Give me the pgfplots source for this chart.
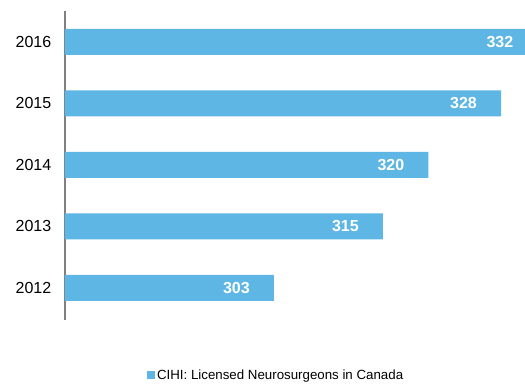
\documentclass[border=0pt]{standalone}
\usepackage{pgfplots}
\pgfplotsset{compat=1.18}
\usepackage{fontspec}
\setmainfont{Liberation Sans}
\definecolor{barblue}{RGB}{94,182,228}
\definecolor{axisgray}{RGB}{128,128,128}

\begin{document}
\begin{tikzpicture}
% page ends at the right edge, so the 2016 bar runs off it as in the reference
\useasboundingbox (-65pt,-64pt) rectangle (460pt,320pt);
\begin{axis}[
    scale only axis,
    width=499.7pt, height=309pt,
    xbar,
    bar width=26pt,
    xmin=280, xmax=335,
    ymin=-0.52, ymax=4.5,
    axis x line=none,
    axis y line*=left,
    y axis line style={-, axisgray, line width=1.2pt},
    ytick={0,1,2,3,4},
    yticklabels={2012,2013,2014,2015,2016},
    ytick style={draw=none},
    yticklabel style={font=\fontsize{16}{18}\selectfont, xshift=-6pt},
    /pgf/number format/assume math mode=true,
    /pgf/number format/1000 sep={},
    nodes near coords,
    every node near coord/.append style={anchor=east, inner sep=0pt,
        xshift=-24pt, text=white, font=\fontsize{16}{18}\selectfont\bfseries},
    legend style={at={(0.4225,-0.178)}, anchor=center, draw=none,
        font=\fontsize{13.3}{15}\selectfont, inner sep=0pt,
        /tikz/every even column/.append style={column sep=0pt}},
    legend image code/.code={\fill[barblue] (0pt,-4pt) rectangle (8pt,4pt);},
]
\addplot[fill=barblue, draw=none] coordinates {
    (303,0) (315,1) (320,2) (328,3) (332,4)
};
\legend{CIHI: Licensed Neurosurgeons in Canada}
\end{axis}
\end{tikzpicture}
\end{document}
